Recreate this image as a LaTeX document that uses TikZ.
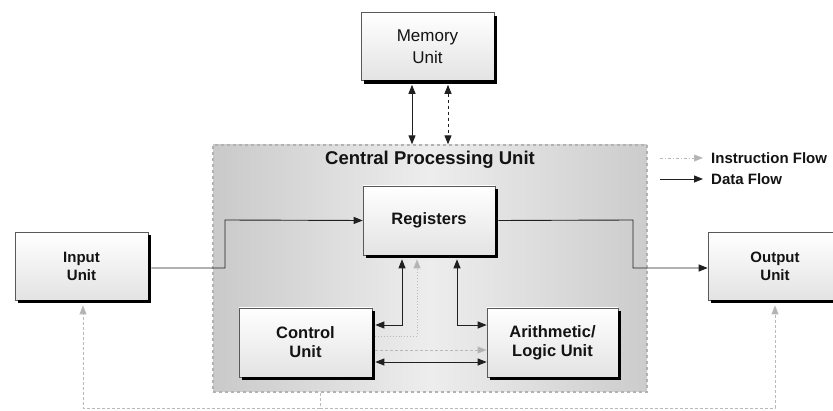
\documentclass[tikz,border=0pt]{standalone}
\usepackage{fontspec}
\setmainfont{Liberation Sans}
\usetikzlibrary{arrows.meta,calc}
\begin{document}
\begin{tikzpicture}[x=1pt,y=-1pt,
  unitbox/.style={draw=gray!70!black, line width=0.6pt, top color=white, bottom color=gray!22,
    minimum width=133pt, minimum height=68pt, align=center, inner sep=0pt,
    font=\fontsize{16.5}{19}\selectfont\bfseries, text=gray!15!black},
  shadowline/.style={draw=black, line width=3.2pt, line join=miter, line cap=butt},
  data/.style={draw=gray!25!black, line width=0.9pt, {Triangle[length=9pt,width=7pt]}-{Triangle[length=9pt,width=7pt]}},
  dataone/.style={draw=gray!25!black, line width=0.9pt, -{Triangle[length=9pt,width=7pt]}},
  instr/.style={draw=gray!55, line width=0.9pt, densely dashed, -{Triangle[length=9pt,width=7pt,fill=gray!60]}},
  lbl/.style={font=\fontsize{15}{17}\selectfont\bfseries, text=gray!15!black, inner sep=0pt, anchor=west}
]
\useasboundingbox (0,0) rectangle (833,411);
\fill[white] (0,0) rectangle (833,411);
% CPU
\node[draw=gray!60, line width=1.3pt, dashed, minimum width=434pt, minimum height=247pt, inner sep=0pt,
  left color=gray!42, right color=gray!40, middle color=gray!14] (cpu) at (430,268.5) {};
\node[font=\fontsize{18.5}{21}\selectfont\bfseries, text=gray!15!black] (cputitle) at (430,160) {Central Processing Unit};
% units
\node[unitbox, font=\fontsize{17}{22}\selectfont] (mem) at (427.5,46.5) {Memory\\Unit};
\node[unitbox, minimum width=132pt, minimum height=69pt] (reg) at (429,220.5) {Registers};
\node[unitbox, minimum height=69pt] (cu) at (305.5,342.5) {Control\\Unit};
\node[unitbox, minimum width=131pt, minimum height=69pt] (alu) at (552.5,342.5) {Arithmetic/\\Logic Unit};
\node[unitbox, font=\fontsize{15}{18}\selectfont\bfseries] (in) at (81.5,266) {Input\\Unit};
\node[unitbox, minimum width=134pt, font=\fontsize{15}{18}\selectfont\bfseries] (out) at (775,266) {Output\\Unit};
% shadows: thick strokes along the right and bottom edges of each box
\draw[shadowline] (364,82) -- (495.8,82) -- (495.8,16);
\draw[shadowline] (366,256.8) -- (496.8,256.8) -- (496.8,189.5);
\draw[shadowline] (242,378.8) -- (373.8,378.8) -- (373.8,311.5);
\draw[shadowline] (490,378.8) -- (619.8,378.8) -- (619.8,311.5);
\draw[shadowline] (18,301.8) -- (149.8,301.8) -- (149.8,235.5);
\draw[shadowline] (711,301.8) -- (843.8,301.8) -- (843.8,235.5);
% memory <-> cpu
\draw[data] (mem.south -| 412,0) ++(0,4) -- (cpu.north -| 412,0);
\draw[data, dashed] (mem.south -| 448,0) ++(0,4) -- (cpu.north -| 448,0);
% input -> registers -> output
\draw[dataone] (in.east |- 0,268) ++(3,0) -- (225,268) -- (225,220) -- (reg.west);
\draw[dataone] (reg.east) ++(3,0) -- (633,220) -- (633,268) -- (out.west |- 0,268);
% registers <-> CU, ALU
\draw[data] (reg.south -| 402,0) ++(0,4) -- (402,325) -- ($(cu.east |- 0,325)+(3,0)$);
\draw[data] (reg.south -| 457,0) ++(0,4) -- (457,325) -- (alu.west |- 0,325);
\draw[instr, dotted] ($(cu.east |- 0,336)+(3,0)$) -- (417,336) -- ($(reg.south -| 417,0)+(0,4)$);
\draw[instr] ($(cu.east |- 0,350)+(3,0)$) -- (alu.west |- 0,350);
\draw[data] ($(cu.east |- 0,362)+(3,0)$) -- (alu.west |- 0,362);
% instruction flow to input / output
\coordinate (cub) at (320,393);
\draw[instr] (cub) -- (320,408) -- (83,408) -- ($(in.south -| 83,0)+(0,5)$);
\draw[instr] (320,408) -- (775,408) -- ($(out.south -| 775,0)+(0,5)$);
% legend
\coordinate (l1a) at (660,158);
\coordinate (l1b) at (703,158);
\coordinate (l2a) at (660,179);
\coordinate (l2b) at (703,179);
\draw[instr, dashdotted] (l1a) -- (l1b);
\draw[dataone] (l2a) -- (l2b);
\node[lbl] (t1) at (711,158) {Instruction Flow};
\node[lbl] (t2) at (711,179) {Data Flow};
\end{tikzpicture}
\end{document}
